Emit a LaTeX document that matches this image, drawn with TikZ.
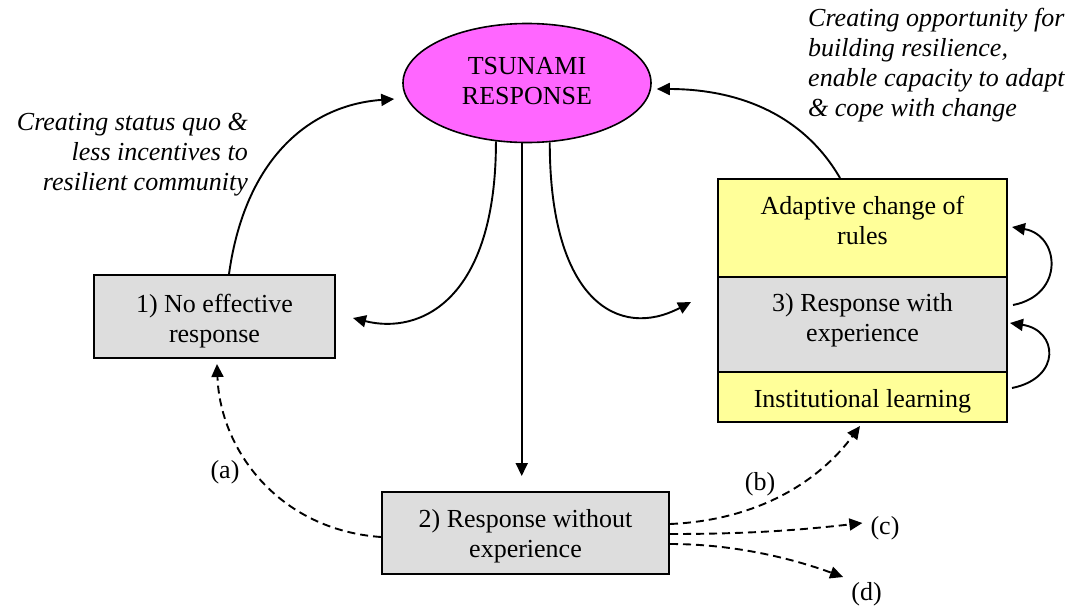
\documentclass[tikz,border=0pt]{standalone}
\usepackage{fontspec}
\setmainfont{Liberation Serif}
\usetikzlibrary{arrows.meta,shapes.geometric,calc}
\definecolor{tsmag}{HTML}{FF66FF}
\definecolor{boxgrey}{HTML}{DDDDDD}
\definecolor{boxyel}{HTML}{FFFF99}
% centred lines, moved up (positive) or down (negative) inside their box
\newcommand\boxlines[2]{\raisebox{#1}[\height][\depth]{\begin{tabular}{@{}c@{}}#2\end{tabular}}}

\begin{document}
\begin{tikzpicture}[x=1pt,y=-1pt,
  txt/.style={font=\fontsize{26}{30}\selectfont, inner sep=0pt},
  note/.style={font=\fontsize{26}{30}\selectfont\itshape, inner sep=0pt},
  stage/.style={txt, draw, line width=2pt, rectangle, minimum width=#1},
  arr/.style={line width=1.9pt, -{Triangle[length=13pt,width=12pt]}},
  dsh/.style={arr, dash pattern=on 8pt off 5pt}
]
\path[use as bounding box] (0,0) rectangle (1078,605);

% central event
\node[txt, ellipse, draw, line width=1.6pt, fill=tsmag,
  minimum width=248, minimum height=119] (ts) at (527,83)
  {\boxlines{0pt}{TSUNAMI\\RESPONSE}};

% three response types
\node[stage=241, fill=boxgrey, minimum height=83] (box1) at (214.5,316.5)
  {\boxlines{-4.5pt}{1) No effective\\response}};
\node[stage=287, fill=boxgrey, minimum height=82] (box2) at (525.5,533)
  {\boxlines{-3pt}{2) Response without\\experience}};
\node[stage=289, fill=boxyel, minimum height=98] (adapt) at (862.5,228)
  {\boxlines{4.5pt}{Adaptive change of\\rules}};
\node[stage=289, fill=boxgrey, minimum height=95] (resp3) at (862.5,324.5)
  {\boxlines{4pt}{3) Response with\\experience}};
\node[stage=289, fill=boxyel, minimum height=50] (inst) at (862.5,397)
  {\boxlines{-4pt}{Institutional learning}};

% annotations
\node[note, anchor=east, align=right] (noteL) at (248,155)
  {Creating status quo \&\\less incentives to\\resilient community};
\node[note, anchor=west, align=left] (noteR) at (808,65)
  {Creating opportunity for\\building resilience,\\enable capacity to adapt\\\& cope with change};

% outcome labels
\node[txt] (la) at (225,472) {(a)};
\node[txt] (lb) at (760,484) {(b)};
\node[txt] (lc) at (885,528) {(c)};
\node[txt] (ld) at (866.5,594) {(d)};

% from the response outwards
\draw[arr, shorten >=15pt] (ts.265) -- (ts.265 |- box2.north);
\draw[arr] (ts.242) .. controls +(0,159) and +(67,17) .. ($(box1.east)+(17,1.5)$);
\draw[arr] (ts.291) .. controls +(0,159) and +(-72,38) .. ($(resp3.west)+(-26,-22.5)$);

% feedback to the response
\draw[arr] ($(box1.north)+(14.5,0)$) .. controls +(16,-115) and +(-85,6) .. ($(ts.west)+(-8,16)$);
\draw[arr] ($(adapt.north)+(-22.5,0)$) .. controls +(-40,-69) and +(73,0) .. ($(ts.east)+(5,6)$);

% learning loops
\draw[arr] ($(resp3.east)+(5,-19.5)$) .. controls +(52,-10) and +(48,8) .. ($(adapt.east)+(4,-1)$);
\draw[arr] ($(inst.east)+(4,-9)$) .. controls +(50,-10) and +(48,7) .. ($(resp3.east)+(2,-1.5)$);

% possible paths after a response without experience
\draw[dsh] ($(box2.west)+(0,4)$) .. controls +(-101,-7) and +(3,87) .. ($(box1.south)+(2.5,5)$);
\draw[dsh] ($(box2.east)+(0,-9)$) .. controls +(90,-4) and +(-40,54) .. ($(inst.south)+(-2.5,3)$);
\draw[dsh] ($(box2.east)+(0,1)$) .. controls +(80,0) and +(-62,7) .. ($(lc.west)+(-8,-5)$);
\draw[dsh] ($(box2.east)+(0,11)$) .. controls +(70,0) and +(-44,-16) .. ($(ld.north west)+(-8,-5)$);
\end{tikzpicture}
\end{document}
